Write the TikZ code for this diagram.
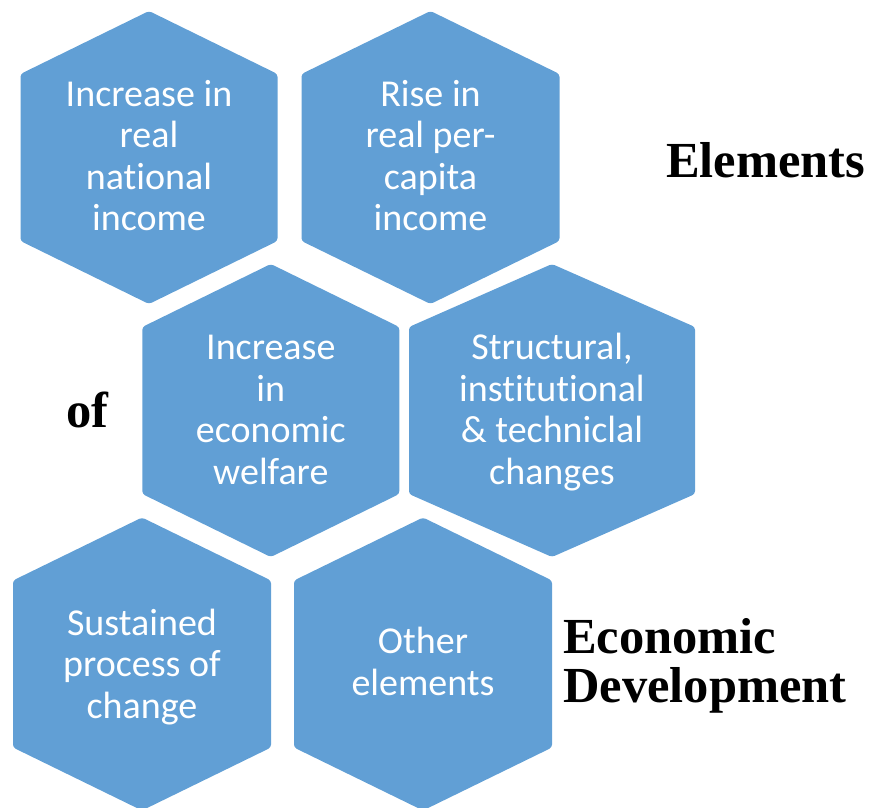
\documentclass[tikz,border=0pt]{standalone}
\usepackage{fontspec}
\usepackage{tikz}
\newfontfamily\cellfont{Carlito}[Ligatures=NoCommon]
\newfontfamily\headfont{Liberation Serif}
\definecolor{hexblue}{RGB}{97,159,213}
\tikzset{
	x=1pt,
	y=-1pt,
	cell/.style={fill=hexblue, rounded corners=3pt},
	celltext/.style={text=white, align=center, inner sep=0pt,
		font=\cellfont\fontsize{38}{41.5}\selectfont},
	headtext/.style={text=black, align=left, inner sep=0pt,
		font=\headfont\bfseries\fontsize{50.5}{49}\selectfont},
}

\begin{document}
\begin{tikzpicture}
			\useasboundingbox (0,0) rectangle (871,808);
			
			% hexagons: centre x / centre y / half width
			\foreach \cx/\cy/\w in {149/157.5/128.5, 430.5/157.5/129,
				270.8/410.5/128.5, 552/410.5/143,
				142/664/129, 423/664/129}
				\fill[cell] (\cx,\cy-146.5) -- (\cx+\w,\cy-83.5) -- (\cx+\w,\cy+83.5)
					-- (\cx,\cy+146.5) -- (\cx-\w,\cy+83.5) -- (\cx-\w,\cy-83.5) -- cycle;
			
			\node[celltext] (NATIONAL) at (149,155.5) {Increase in\\real\\national\\income};
			\node[celltext] (PERCAPITA) at (430.5,155.5) {Rise in\\real per-\\capita\\income};
			\node[celltext] (WELFARE) at (270.8,410) {Increase\\in\\economic\\welfare};
			\node[celltext] (STRUCTURAL) at (552,412) {Structural,\\institutional\\\& techniclal\\changes};
			\node[celltext] (SUSTAINED) at (142,667) {Sustained\\process of\\change};
			\node[celltext] (OTHER) at (423,661.5) {Other\\elements};
			
			\node[headtext, anchor=base west] (ELEMENTS) at (666,177) {Elements};
			\node[headtext, anchor=base west] (OF) at (66,427) {of};
			\node[headtext, anchor=west] (ECODEV) at (563,666) {Economic\\Development};
		\end{tikzpicture}
\end{document}
